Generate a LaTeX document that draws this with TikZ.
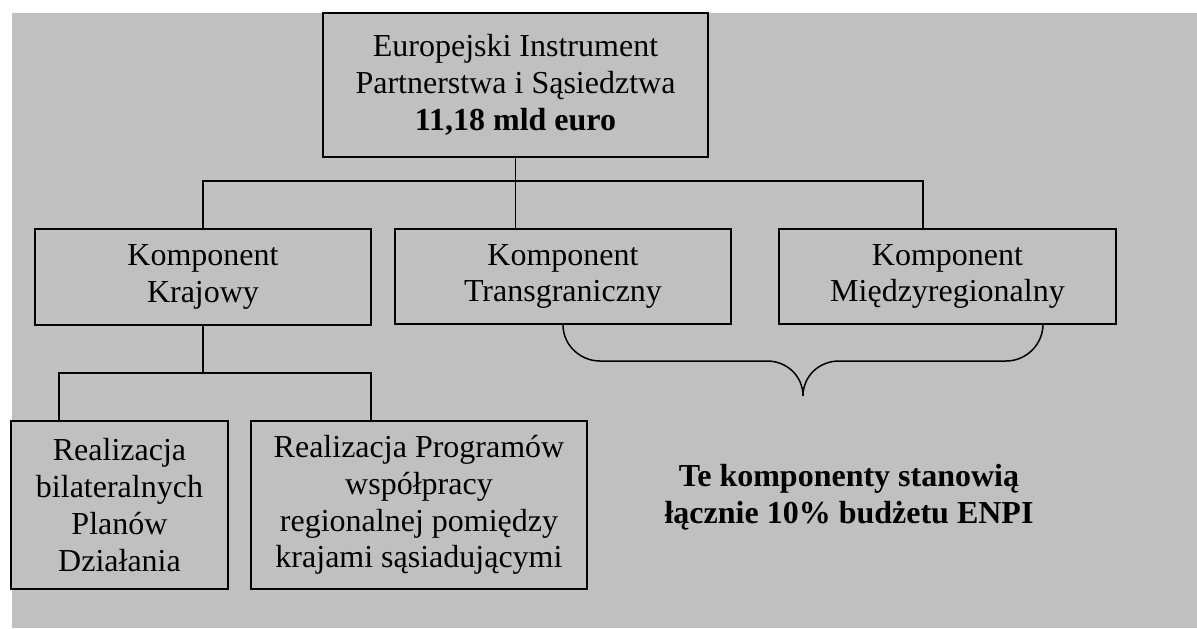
\documentclass[tikz,border=0pt]{standalone}
\usepackage{fontspec}
\setmainfont{Liberation Serif}
\usepackage{tikz}
\definecolor{bggray}{RGB}{192,192,192}

\begin{document}
\begin{tikzpicture}[x=0.5pt, y=-0.5pt,
        box/.style={draw, line width=1pt, align=center, inner sep=0pt,
            font=\fontsize{16}{18.35}\selectfont},
        link/.style={line width=0.75pt}]
    % background
    \useasboundingbox (0,0) rectangle (1197,628);
    \fill[bggray] (11.5,13) rectangle (1197,628);

    % instrument
    \node[box, minimum width=192.5pt, minimum height=72pt] (euro) at (515.5,85)
        {Europejski Instrument\\Partnerstwa i Sąsiedztwa\\\textbf{11,18 mld euro}};

    % components
    \node[box, minimum width=168pt, minimum height=48pt] (kraj) at (203,277) {Komponent\\Krajowy};
    \node[box, minimum width=168pt, minimum height=47.5pt] (trans) at (563,276.5) {Komponent\\Transgraniczny};
    \node[box, minimum width=168.5pt, minimum height=47.5pt] (miedzy) at (947.5,276.5) {Komponent\\Międzyregionalny};

    % national component parts
    \node[box, minimum width=108.5pt, minimum height=84pt] (plany) at (119.5,505)
        {Realizacja\\bilateralnych\\Planów\\Działania};
    \node[box, minimum width=168pt, minimum height=84pt] (prog) at (419,505)
        {Realizacja Programów\\współpracy\\regionalnej pomiędzy\\krajami sąsiadującymi};

    % note
    \node[font=\fontsize{16}{18.35}\selectfont\bfseries, align=center] (note) at (849,497)
        {Te komponenty stanowią\\łącznie 10\% budżetu ENPI};

    % links
    \coordinate (busL) at (203,181);
    \coordinate (busR) at (923,181);
    \coordinate (subL) at (59,373);
    \coordinate (subR) at (371,373);
    \draw[link] (euro.south) -- (euro.south |- trans.north);
    \draw[link] (kraj.north) -- (busL) -- (busR) -- (busR |- miedzy.north);
    \draw[link] (kraj.south) -- (kraj.south |- subL);
    \draw[link] (plany.north -| subL) -- (subL) -- (subR) -- (prog.north -| subR);

    % brace
    \coordinate (tip) at (803,396);
    \coordinate (braceR) at (1043,324);
    \draw[link] (trans.south) .. controls (563,344.4) and (579.6,361) .. (600,361)
        -- (767,361) .. controls (786.9,361) and (803,376.1) .. (tip)
        .. controls (803,376.1) and (819.1,361) .. (839,361)
        -- (1006,361) .. controls (1026.4,361) and (1043,344.4) .. (braceR);
\end{tikzpicture}
\end{document}
